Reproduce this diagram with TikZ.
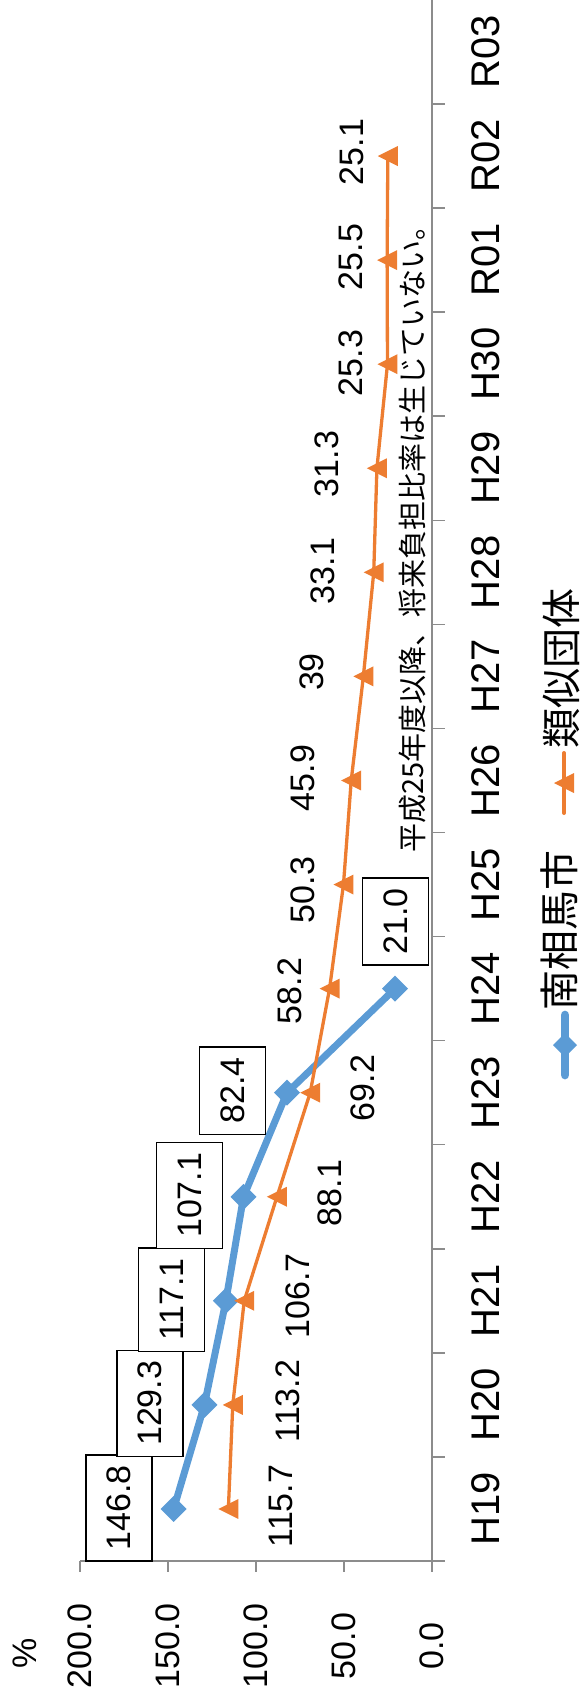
\documentclass[tikz,border=0pt]{standalone}
\usepackage{fontspec}
\setmainfont{Liberation Sans}
\newfontfamily\cjk{Noto Sans CJK JP}
\definecolor{sblue}{HTML}{5B9BD5}
\definecolor{sorange}{HTML}{ED7D31}
\definecolor{axisgray}{HTML}{8C8C8C}
\begin{document}
\begin{tikzpicture}[x=1pt,y=-1pt,
  axisline/.style={draw=axisgray,line width=1.5pt},
  blueline/.style={draw=sblue,line width=7pt,line join=round},
  orangeline/.style={draw=sorange,line width=3.3pt,line join=round},
  rottext/.style={rotate=90,inner sep=0pt},
  catlabel/.style={rottext,font=\fontsize{40}{46}\selectfont},
  vallabel/.style={rottext,font=\fontsize{34}{40}\selectfont},
  datalabel/.style={rottext,font=\fontsize{34}{40}\selectfont},
  boxlabel/.style={rotate=90,draw=black,line width=1.5pt,font=\fontsize{34}{40}\selectfont,
     inner xsep=10.5pt,inner ysep=0pt,minimum height=66pt,fill=white},
  legendtext/.style={rottext,anchor=west,font=\cjk\fontsize{40}{46}\selectfont},
]
\useasboundingbox (0,0) rectangle (580,1703);

% axes
\draw[axisline] (80,1561) -- (432,1561);
\draw[axisline] (432,1561) -- (432,0);
\foreach \x in {80,168,256,344,432} \draw[axisline] (\x,1561) -- (\x,1572);
\foreach \k in {0,...,14} \draw[axisline] (432,{1561-104.07*\k}) -- (445,{1561-104.07*\k});

% value labels
\foreach \x/\t [count=\n] in {80/200.0,168/150.0,256/100.0,344/50.0,432/0.0}
  \node[vallabel] (v\n) at (\x,1646) {\t};
\node[vallabel] (pct) at (24.5,1653) {\%};

% category labels
\foreach \t [count=\i from 0] in {H19,H20,H21,H22,H23,H24,H25,H26,H27,H28,H29,H30,R01,R02,R03}
  \node[catlabel] (c\i) at (486,{1561-104.07*(\i+0.5)}) {\t};

% data points
\foreach \v [count=\i from 0] in {146.8,129.3,117.1,107.1,82.4,21.0}
  \coordinate (b\i) at ({432-1.76*\v},{1561-104.07*(\i+0.5)});
\foreach \v [count=\i from 0] in {115.7,113.2,106.7,88.1,69.2,58.2,50.3,45.9,39,33.1,31.3,25.3,25.5,25.1}
  \coordinate (o\i) at ({432-1.76*\v},{1561-104.07*(\i+0.5)});

% blue series
\draw[blueline] (b0) -- (b1) -- (b2) -- (b3) -- (b4) -- (b5);
\foreach \i in {0,...,5}
  \fill[sblue] (b\i) +(-13,0) -- +(0,-13) -- +(13,0) -- +(0,13) -- cycle;

% orange series
\draw[orangeline] (o0) -- (o1) -- (o2) -- (o3) -- (o4) -- (o5) -- (o6) -- (o7) -- (o8) -- (o9) -- (o10) -- (o11) -- (o12) -- (o13);
\foreach \i in {0,...,13}
  \fill[sorange] (o\i) +(-10,0) -- +(10,-10) -- +(10,10) -- cycle;

% blue boxed labels
\node[boxlabel] (lb0) at (118.9,1508) {146.8};
\node[boxlabel] (lb1) at (150,1403.3) {129.3};
\node[boxlabel] (lb2) at (171.7,1299.7) {117.1};
\node[boxlabel] (lb3) at (189.3,1195.3) {107.1};
\node[boxlabel] (lb4) at (232.7,1090.7) {82.4};
\node[boxlabel] (lb5) at (395.5,921.5) {21.0};

% orange labels
\foreach \x/\y/\t [count=\i from 0] in {280.5/1506/115.7,287.5/1401/113.2,297.5/1296/106.7,330/1193/88.1,363/1088/69.2,290/991/58.2,302.5/890/50.3,302.5/778/45.9,312/672/39,323/571/33.1,327/464/31.3,351/363/25.3,351/257/25.5,351.7/152/25.1}
  \node[datalabel] (lo\i) at (\x,\y) {\t};

% annotation
\node[rottext,font=\cjk\fontsize{29}{34}\selectfont] (note) at (413,532) {平成25年度以降、将来負担比率は生じていない。};

% legend
\coordinate (lgb1) at (565,1015);
\coordinate (lgb2) at (565,1075);
\coordinate (lgbm) at (565,1045);
\draw[draw=sblue,line width=8.7pt,line cap=round] (lgb1) -- (lgb2);
\fill[sblue] (lgbm) +(-12,0) -- +(0,-12) -- +(12,0) -- +(0,12) -- cycle;
\node[legendtext] (lgbt) at (559,1011) {南相馬市};

\coordinate (lgo1) at (564,753);
\coordinate (lgo2) at (564,813);
\coordinate (lgom) at (564,783);
\draw[draw=sorange,line width=4pt,line cap=round] (lgo1) -- (lgo2);
\fill[sorange] (lgom) +(-10,0) -- +(10,-10) -- +(10,10) -- cycle;
\node[legendtext] (lgot) at (561,749) {類似団体};
\end{tikzpicture}
\end{document}
